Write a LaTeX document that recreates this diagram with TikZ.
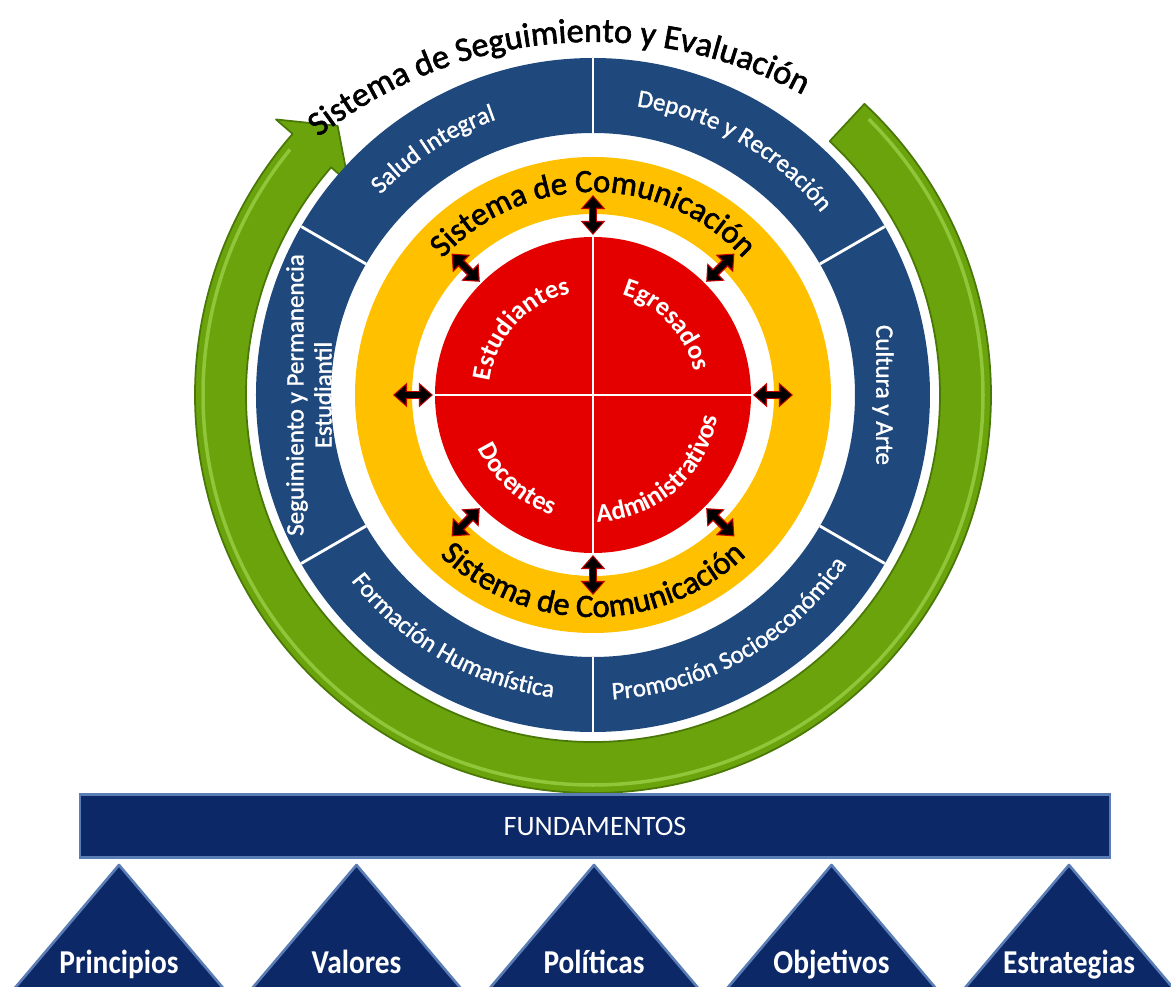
\documentclass[tikz,border=0pt]{standalone}
\usepackage{fontspec}
\setmainfont{Carlito}
\newfontfamily\heavyfont[FakeBold=1.8]{Carlito}
\newfontfamily\semifont[FakeBold=1.3]{Carlito}
\usepackage{graphicx}
\usetikzlibrary{decorations.text,arrows.meta}
\definecolor{ringgreen}{HTML}{6BA30C}
\definecolor{greenedge}{HTML}{4A7806}
\definecolor{greenlight}{HTML}{8FC63A}
\definecolor{ringblue}{HTML}{1F497D}
\definecolor{ringgold}{HTML}{FFC000}
\definecolor{corered}{HTML}{E50000}
\definecolor{rimred}{HTML}{C00000}
\definecolor{navy}{HTML}{0C2866}
\definecolor{navyedge}{HTML}{5B7DB5}
\newcommand\ringfont{\semifont\fontsize{14.2}{16}\selectfont}
\newcommand\corefont{\bfseries\fontsize{15}{16}\selectfont}
\newcommand\comfont{\heavyfont\fontsize{18.5}{20}\selectfont}
\newcommand\titlefont{\heavyfont\fontsize{19.5}{21}\selectfont}
\newcommand\pilfont{\bfseries\fontsize{19}{22}\selectfont}
\tikzset{
  segline/.style={draw=white, line width=1.6pt},
  ringtext/.style={decorate, decoration={text along path, text color=white, text align=center, text={|\ringfont|#1}}},
  coretext/.style={decorate, decoration={text along path, text color=white, text align=center, text={|\corefont|#1}}},
  comtext/.style={decorate, decoration={text along path, text color=black, text align=center, text={|\comfont|#1}}},
  titletext/.style={decorate, decoration={text along path, text color=black, text align=center, text={|\titlefont|#1}}},
  ringlab/.style={text=white, font=\ringfont, align=center, inner sep=0pt},
  comrim/.style={draw=rimred, line width=5pt, {Triangle[length=8pt,width=13.5pt]}-{Triangle[length=8pt,width=13.5pt]}},
  comcore/.style={draw=black, line width=3.4pt, shorten <=1pt, shorten >=1pt, {Triangle[length=6.2pt,width=10.5pt]}-{Triangle[length=6.2pt,width=10.5pt]}},
  fundbar/.style={fill=navy, draw=navyedge, line width=1.5pt, text=white, font=\fontsize{16}{18}\selectfont, minimum width=20.6cm, minimum height=1.26cm, inner sep=0pt},
  pyramid/.style={fill=navy, draw=navyedge, line width=1.5pt, line join=round},
  pillab/.style={anchor=base, text=white, font=\pilfont, inner sep=0pt},
}

\begin{document}
\begin{tikzpicture}[x=0.02cm, y=0.02cm]
  \useasboundingbox (-593,-592) rectangle (578,395);

  % green cycle arrow
  \fill[ringgreen, draw=greenedge, line width=1pt, line join=round]
    (47:398) arc[start angle=47, end angle=-221, radius=398]
    -- (139:420) -- (133.5:371) -- (139:324) -- (139:347)
    arc[start angle=-221, end angle=47, radius=347] -- cycle;
  \draw[greenlight, line width=2pt] (45:390) arc[start angle=45, end angle=-219, radius=390];
  \path[titletext={Sistema de Seguimiento y Evaluación}, shift={(0,-90)}]
    (160:443) arc[start angle=160, end angle=30, radius=443];

  % blue ring with its six areas
  \fill[ringblue, even odd rule] (0,0) circle[radius=337] (0,0) circle[radius=262];
  \foreach \a in {30,90,...,330}
    \draw[segline] (\a:262) -- (\a:337);
  \path[ringtext={Salud Integral}] (153:292) arc[start angle=153, end angle=93, radius=292];
  \path[ringtext={Deporte y Recreación}] (90:292) arc[start angle=90, end angle=30, radius=292];
  \path[ringtext={Formación Humanística}] (210:305) arc[start angle=210, end angle=270, radius=305];
  \path[ringtext={Promoción Socioeconómica}] (270:305) arc[start angle=270, end angle=330, radius=305];
  \node[ringlab, rotate=-90] (cultura) at (0:290) {Cultura y Arte};
  \node[ringlab, rotate=90] (seguim) at (180:284) {Seguimiento y Permanencia\\Estudiantil};

  % communication ring
  \fill[ringgold, even odd rule] (0,0) circle[radius=238] (0,0) circle[radius=181];
  \path[comtext={Sistema de Comunicación}] (150:203) arc[start angle=150, end angle=30, radius=203];
  \path[comtext={Sistema de Comunicación}] (210:222) arc[start angle=210, end angle=330, radius=222];

  % actors
  \fill[corered] (0,0) circle[radius=158];
  \draw[white, line width=1.2pt] (0,158) -- (0,-158) (-158,0) -- (158,0);
  \path[coretext={Estudiantes}] (190:104) arc[start angle=190, end angle=85, radius=104];
  \path[coretext={Egresados}] (95:104) arc[start angle=95, end angle=-8, radius=104];
  \path[coretext={Docentes}] (180:127) arc[start angle=180, end angle=276, radius=127];
  \path[coretext={Administrativos}] (260:127) arc[start angle=260, end angle=362, radius=127];

  \foreach \a in {0,45,...,315}{
    \coordinate (in\a) at (\a:160);
    \coordinate (out\a) at (\a:200);
    \draw[comrim] (in\a) -- (out\a);
    \draw[comcore] (in\a) -- (out\a);
  }

  % fundamentos
  \node[fundbar] (fund) at (2,-431) {FUNDAMENTOS};
  \foreach \i/\name in {0/Principios,1/Valores,2/Políticas,3/Objetivos,4/Estrategias}{
    \pgfmathsetmacro\cx{-474+237.5*\i}
    \draw[pyramid] (\cx,-470) -- (\cx+110,-600) -- (\cx-110,-600) -- cycle;
    \node[pillab] (pil\i) at (\cx,-579) {\scalebox{0.88}[1]{\name}};
  }
\end{tikzpicture}
\end{document}
